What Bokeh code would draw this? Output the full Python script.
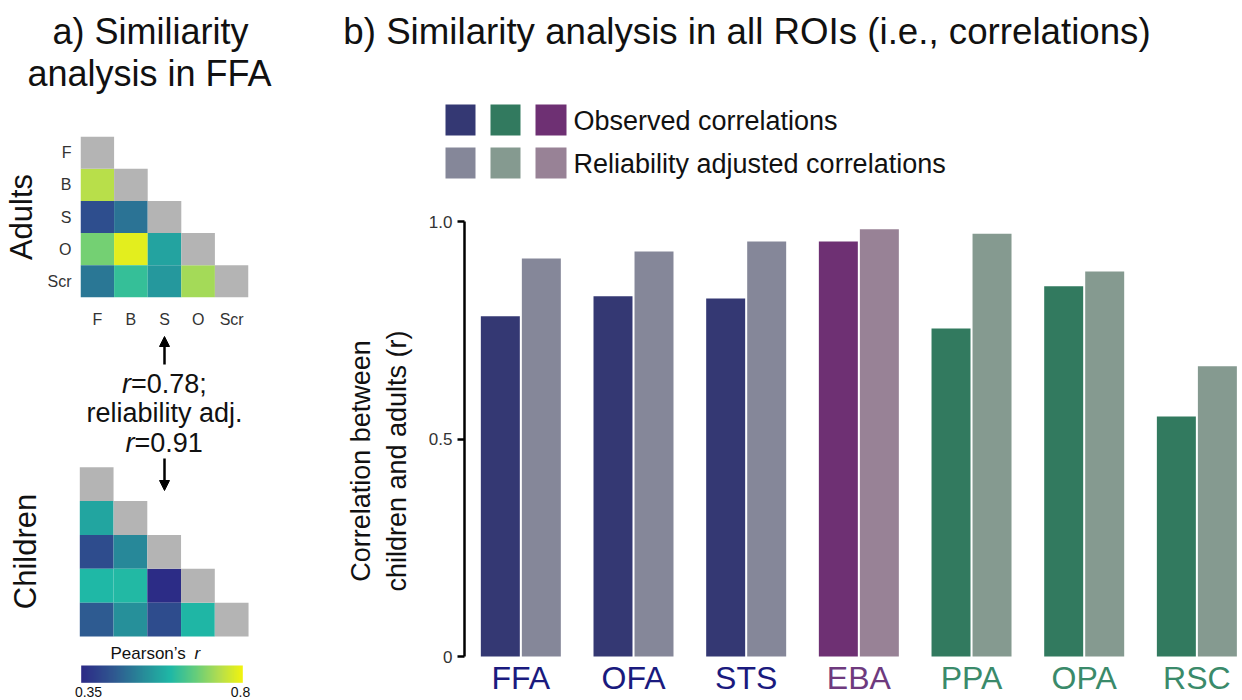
import numpy as np
from bokeh.plotting import figure
from bokeh.layouts import row, column
from bokeh.models import (ColumnDataSource, Range1d, FactorRange, LinearColorMapper,
                          CategoricalColorMapper, Arrow, NormalHead, LabelSet, FixedTicker)
from bokeh.transform import dodge, transform
from bokeh.core.properties import value
from bokeh.embed import file_html
from bokeh.resources import INLINE

# ---------------- data ----------------
matrix_labels = ["F", "B", "S", "O", "Scr"]
# lower triangle of the similarity matrices (row i, columns 0..i-1)
adult_r = [[], [0.737], [0.422, 0.485], [0.679, 0.782, 0.562], [0.490, 0.620, 0.545, 0.720]]
child_r = [[], [0.566], [0.418, 0.517], [0.597, 0.600, 0.355], [0.445, 0.530, 0.418, 0.593]]
ffa_r = 0.78
ffa_r_adj = 0.91
cbar_low, cbar_high = 0.35, 0.8

rois = ["FFA", "OFA", "STS", "EBA", "PPA", "OPA", "RSC"]
roi_group = ["face", "face", "face", "body", "scene", "scene", "scene"]
observed = [0.782, 0.828, 0.823, 0.954, 0.754, 0.851, 0.552]
adjusted = [0.915, 0.931, 0.954, 0.982, 0.972, 0.885, 0.667]
y_ticks = [0, 0.5, 1.0]
y_tick_labels = {0: "0", 0.5: "0.5", 1: "1.0"}
legend_labels = ["Observed correlations", "Reliability adjusted correlations"]

# ---------------- styles ----------------
FONT = "Liberation Sans"
groups = ["face", "body", "scene"]
obs_colors = ["#343873", "#6e3073", "#327a5f"]
adj_colors = ["#858799", "#988296", "#859a90"]
lab_colors = ["#1a1a7e", "#6e3a7e", "#3a8a6a"]
GRAY = "#b4b4b4"
anchors = [(0.0, "#2c2a86"), (0.2, "#2f5890"), (0.4, "#26909a"), (0.55, "#1fb8a6"),
           (0.7, "#62cc7d"), (0.85, "#b2dd50"), (1.0, "#f4f40c")]


def make_palette(n=256):
    ts = np.array([a[0] for a in anchors])
    rgb = np.array([[int(c[i:i + 2], 16) for i in (1, 3, 5)] for _, c in anchors])
    t = np.linspace(0, 1, n)
    out = []
    for k in range(n):
        r, g, b = (int(round(np.interp(t[k], ts, rgb[:, ch]))) for ch in range(3))
        out.append("#%02x%02x%02x" % (r, g, b))
    return out


PALETTE = make_palette()
cmap = LinearColorMapper(palette=PALETTE, low=cbar_low, high=cbar_high)


def canvas(w, h, xr, yr):
    p = figure(width=w, height=h, x_range=Range1d(*xr), y_range=Range1d(*yr),
               output_backend="svg", toolbar_location=None, min_border=0,
               x_axis_location=None, y_axis_location=None, frame_align=False)
    p.grid.visible = False
    p.outline_line_color = None
    return p


def tri_source(vals, labels):
    rows, cols, ri, ci, r = [], [], [], [], []
    for i, rv in enumerate(vals):
        for j, v in enumerate(rv):
            rows.append(labels[i]); cols.append(labels[j])
            ri.append(-i); ci.append(j); r.append(v)
    return ColumnDataSource(dict(row=rows, col=cols, ri=ri, ci=ci, r=r))


# ---------------- left panel: title ----------------
title_a = canvas(308, 118, (0, 308), (118, 0))
title_a.text(x=[150, 149], y=[31, 73], text=["a) Similiarity", "analysis in FFA"],
             text_font=value(FONT), text_font_size="36px", text_align="center",
             text_baseline="middle", text_color="#111111")

# ---------------- adults heatmap ----------------
adult = figure(width=308, height=212, x_range=FactorRange(*matrix_labels),
               y_range=FactorRange(*matrix_labels[::-1]), output_backend="svg",
               toolbar_location=None, min_border_left=80, min_border_right=60,
               min_border_top=18, min_border_bottom=24, frame_align=False)
adult.grid.visible = False
adult.outline_line_color = None
src_a = tri_source(adult_r, matrix_labels)
adult.rect(x="col", y="row", width=1, height=1, source=src_a,
           fill_color=transform("r", cmap), line_color=None)
adult.rect(x=matrix_labels, y=matrix_labels, width=1, height=1, fill_color=GRAY, line_color=None)
for ax in adult.axis:
    ax.axis_line_color = None
    ax.major_tick_line_color = None
    ax.minor_tick_line_color = None
    ax.major_label_text_font = FONT
    ax.major_label_text_font_size = "16px"
    ax.major_label_text_color = "#333333"
adult.xaxis.major_label_standoff = 7
adult.yaxis.major_label_standoff = 3
adult.yaxis.axis_label = "Adults"
adult.yaxis.axis_label_text_font = FONT
adult.yaxis.axis_label_text_font_size = "31px"
adult.yaxis.axis_label_text_font_style = "normal"
adult.yaxis.axis_label_text_color = "#111111"
adult.yaxis.axis_label_standoff = 6

# ---------------- lower-left: annotation, children heatmap, colour bar ----------------
X0, CW = 79.3, 33.75     # page x of left edge of first column, cell width
Y0, CH = 466.7, 33.86    # page y of top edge of children matrix, cell height


def px(x):
    return -0.5 + (x - X0) / CW


def py(y):
    return 0.5 - (y - Y0) / CH


lower = canvas(308, 370, (px(0), px(308)), (py(700), py(330)))
src_c = tri_source(child_r, matrix_labels)
lower.rect(x="ci", y="ri", width=1, height=1, source=src_c,
           fill_color=transform("r", cmap), line_color=None)
n = len(matrix_labels)
lower.rect(x=list(range(n)), y=[-k for k in range(n)], width=1, height=1,
           fill_color=GRAY, line_color=None)
lower.text(x=[px(25)], y=[py(551)], text=["Children"], angle=np.pi / 2,
           text_font=value(FONT), text_font_size="31px", text_align="center",
           text_baseline="middle", text_color="#111111")

head = NormalHead(size=10, fill_color="black", line_color="black", line_width=1)
lower.add_layout(Arrow(end=head, x_start=px(164), y_start=py(364), x_end=px(164), y_end=py(336),
                       line_width=2.5, line_color="black"))
head2 = NormalHead(size=10, fill_color="black", line_color="black", line_width=1)
lower.add_layout(Arrow(end=head2, x_start=px(164), y_start=py(458), x_end=px(164), y_end=py(490),
                       line_width=2.5, line_color="black"))

TXT = dict(text_font=value(FONT), text_font_size="27px", text_baseline="middle",
           text_color="#111111")
lower.text(x=[px(121.5)], y=[py(383)], text=["r"], text_align="left",
           text_font_style="italic", **TXT)
lower.text(x=[px(130.5)], y=[py(383)], text=["=%.2f;" % ffa_r], text_align="left", **TXT)
lower.text(x=[px(164)], y=[py(412)], text=["reliability adj."], text_align="center", **TXT)
lower.text(x=[px(125)], y=[py(442)], text=["r"], text_align="left",
           text_font_style="italic", **TXT)
lower.text(x=[px(134)], y=[py(442)], text=["=%.2f" % ffa_r_adj], text_align="left", **TXT)

# colour bar
grad = np.linspace(cbar_low, cbar_high, 256).reshape(1, 256)
lower.image(image=[grad], x=px(80.7), y=py(682.3), dw=(242.3 - 80.7) / CW, dh=17.3 / CH,
            color_mapper=cmap)
CB = dict(text_font=value(FONT), text_font_size="17px", text_baseline="middle",
          text_color="#111111")
lower.text(x=[px(110)], y=[py(653)], text=["Pearson\u2019s "], text_align="left", **CB)
lower.text(x=[px(194)], y=[py(653)], text=["r"], text_align="left", text_font_style="italic", **CB)
lower.text(x=[px(88), px(240)], y=[py(691), py(691)],
           text=["%.2f" % cbar_low, "%.1f" % cbar_high], text_align="center",
           text_font=value(FONT), text_font_size="14px", text_baseline="middle",
           text_color="#111111")

# ---------------- right panel: title + legend ----------------
headf = canvas(934, 200, (308, 1242), (200, 0))
headf.text(x=[746.5], y=[31], text=["b) Similarity analysis in all ROIs (i.e., correlations)"],
           text_font=value(FONT), text_font_size="36.7px", text_align="center",
           text_baseline="middle", text_color="#111111")
leg_order = ["face", "scene", "body"]
leg_src = ColumnDataSource(dict(
    left=[445, 490, 535] * 2, right=[475, 520, 566] * 2,
    top=[104] * 3 + [147] * 3, bottom=[135] * 3 + [178] * 3,
    color=[obs_colors[groups.index(g)] for g in leg_order] +
          [adj_colors[groups.index(g)] for g in leg_order]))
headf.quad(left="left", right="right", top="top", bottom="bottom", fill_color="color",
           line_color=None, source=leg_src)
headf.text(x=[573, 573], y=[120, 163], text=legend_labels, text_font=value(FONT),
           text_font_size="27px", text_align="left", text_baseline="middle",
           text_color="#111111")

# ---------------- bar chart ----------------
bar_src = ColumnDataSource(dict(pos=np.arange(len(rois)) + 0.5, roi=rois, group=roi_group,
                                observed=observed, adjusted=adjusted))
Y_BOTTOM = 1.0 - 479.0 / 435.0   # frame extends below 0 to host the ROI labels
bars = figure(width=934, height=500, x_range=Range1d(0, 6.905), y_range=Range1d(Y_BOTTOM, 1.0),
              output_backend="svg", toolbar_location=None, x_axis_location=None,
              min_border_left=156, min_border_right=0, min_border_top=21, min_border_bottom=0,
              frame_align=False)
bars.grid.visible = False
bars.outline_line_color = None
obs_map = CategoricalColorMapper(factors=groups, palette=obs_colors)
adj_map = CategoricalColorMapper(factors=groups, palette=adj_colors)
lab_map = CategoricalColorMapper(factors=groups, palette=lab_colors)
bars.vbar(x=dodge("pos", -0.182, range=bars.x_range), top="observed", bottom=0, width=0.346,
          source=bar_src, fill_color=transform("group", obs_map), line_color=None)
bars.vbar(x=dodge("pos", 0.182, range=bars.x_range), top="adjusted", bottom=0, width=0.346,
          source=bar_src, fill_color=transform("group", adj_map), line_color=None)
bars.add_layout(LabelSet(x="pos", y=0, text="roi", source=bar_src, y_offset=-32,
                         text_align="center", text_baseline="alphabetic",
                         text_font=value(FONT), text_font_size="32px",
                         text_color=transform("group", lab_map)))
ya = bars.yaxis[0]
ya.bounds = (0, 1)
ya.ticker = FixedTicker(ticks=y_ticks)
ya.major_label_overrides = y_tick_labels
ya.minor_tick_line_color = None
ya.major_tick_in = 0
ya.major_tick_out = 7
ya.major_tick_line_width = 2.5
ya.axis_line_width = 2.5
ya.axis_line_color = "black"
ya.major_tick_line_color = "black"
ya.major_label_text_font = FONT
ya.major_label_text_font_size = "17px"
ya.major_label_text_color = "#333333"
ya.major_label_standoff = 5
ya.axis_label = "Correlation between\nchildren and adults (r)"
ya.axis_label_text_font = FONT
ya.axis_label_text_font_size = "27px"
ya.axis_label_text_font_style = "normal"
ya.axis_label_text_color = "#111111"
ya.axis_label_standoff = 14

layout = row(column(title_a, adult, lower), column(headf, bars))
open("out.html", "w").write(file_html(layout, INLINE))
